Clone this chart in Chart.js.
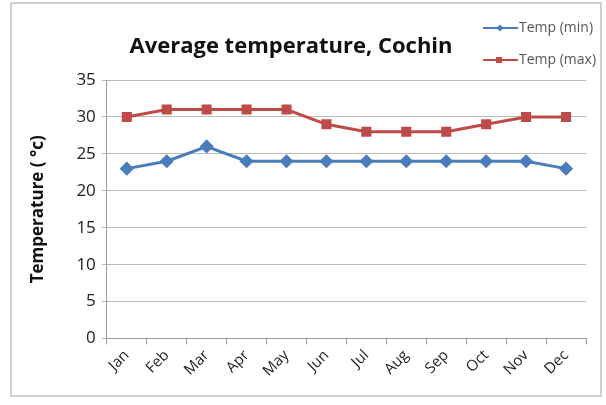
<!DOCTYPE html>
<html>
<head>
<meta charset="utf-8">
<script src="https://cdn.jsdelivr.net/npm/chart.js@4"></script>
<style>
  html, body { margin: 0; padding: 0; background: #fff; }
  #wrap { width: 606px; height: 405px; position: relative; }
</style>
</head>
<body>
<div id="wrap"><canvas id="chart" width="606" height="405"></canvas></div>
<script>
const months = ['Jan', 'Feb', 'Mar', 'Apr', 'May', 'Jun', 'Jul', 'Aug', 'Sep', 'Oct', 'Nov', 'Dec'];
const tempMin = [23, 24, 26, 24, 24, 24, 24, 24, 24, 24, 24, 23];
const tempMax = [30, 31, 31, 31, 31, 29, 28, 28, 28, 29, 30, 30];
const yTicks = [0, 5, 10, 15, 20, 25, 30, 35];

const FONT = '"Open Sans", "Noto Sans", sans-serif';
const BLUE = '#4a7ebb';
const RED = '#be4b48';

// frame, title and the small legend in the top right corner
const decor = {
    id: 'decor',
    beforeDraw(chart) {
        const c = chart.ctx;
        c.save();
        c.fillStyle = '#fff';
        c.fillRect(0, 0, chart.width, chart.height);
        c.strokeStyle = '#d0d0d0';
        c.lineWidth = 2;
        c.strokeRect(11, 3, chart.width - 16, chart.height - 12);
        c.restore();
    },
    afterDraw(chart) {
        const c = chart.ctx;
        c.save();
        c.fillStyle = '#111';
        c.font = 'bold 22px ' + FONT;
        c.textAlign = 'center';
        c.textBaseline = 'middle';
        c.fillText('Average temperature, Cochin', 291, 47);

        const items = chart.data.datasets.map((ds, i) => ({ ds, y: i === 0 ? 28 : 60 }));
        items.forEach(({ ds, y }) => {
            c.strokeStyle = ds.borderColor;
            c.lineWidth = 2;
            c.beginPath();
            c.moveTo(483, y);
            c.lineTo(518, y);
            c.stroke();
            c.fillStyle = ds.borderColor;
            if (ds.pointStyle === 'rect') {
                c.fillRect(496, y - 3, 6, 6);
            } else {
                c.beginPath();
                c.moveTo(500, y - 3.5);
                c.lineTo(503.5, y);
                c.lineTo(500, y + 3.5);
                c.lineTo(496.5, y);
                c.closePath();
                c.fill();
            }
            c.fillStyle = '#555';
            c.font = '14px ' + FONT;
            c.textAlign = 'left';
            c.fillText(ds.label, 519, y);
        });
        c.restore();
    }
};

new Chart(document.getElementById('chart'), {
    type: 'line',
    data: {
        labels: months,
        datasets: [
            {
                label: 'Temp (min)', data: tempMin,
                borderColor: BLUE, backgroundColor: BLUE, borderWidth: 3,
                pointStyle: 'rectRot', pointRadius: 5, pointHoverRadius: 5
            },
            {
                label: 'Temp (max)', data: tempMax,
                borderColor: RED, backgroundColor: RED, borderWidth: 3,
                pointStyle: 'rect', pointRadius: 5, pointHoverRadius: 5
            }
        ]
    },
    options: {
        responsive: false,
        animation: false,
        layout: { padding: { top: 80, left: 28, right: 20, bottom: 23 } },
        plugins: {
            legend: { display: false },
            title: { display: false },
            tooltip: { enabled: false }
        },
        scales: {
            x: {
                offset: true,
                grid: { offset: true, drawOnChartArea: false, color: '#999', tickLength: 6 },
                border: { color: '#999', width: 1 },
                ticks: {
                    color: '#222', font: { family: FONT, size: 15 },
                    maxRotation: 45, minRotation: 45, padding: 2
                }
            },
            y: {
                min: 0, max: 35,
                afterBuildTicks(axis) { axis.ticks = yTicks.map(v => ({ value: v })); },
                grid: { color: '#bbb', tickLength: 5 },
                border: { color: '#999', width: 1 },
                ticks: { color: '#222', font: { family: FONT, size: 17 }, padding: 6 },
                title: {
                    display: true, text: 'Temperature ( °c)', color: '#111',
                    font: { family: FONT, size: 17, weight: 'bold' }, padding: { top: 0, bottom: 22 }
                }
            }
        }
    },
    plugins: [decor]
});
</script>
</body>
</html>
